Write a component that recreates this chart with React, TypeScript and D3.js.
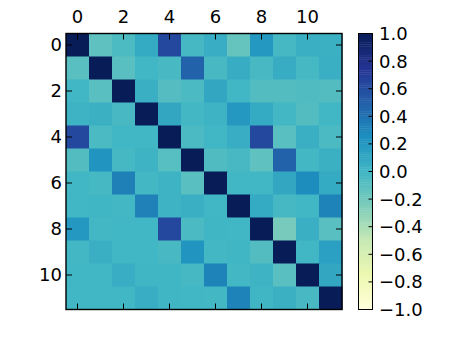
import React from "react";
import * as d3 from "d3";

// correlation matrix, one array per row
const r0 = [1.0, -0.12, -0.05, 0.08, 0.63, -0.02, 0.06, -0.15, 0.2, -0.02, 0.05, 0.04];
const r1 = [-0.1, 1.0, -0.1, 0.0, -0.03, 0.48, -0.03, 0.07, -0.03, 0.07, -0.02, 0.05];
const r2 = [0.0, -0.1, 1.0, 0.05, -0.08, -0.04, 0.1, 0.0, -0.07, -0.07, -0.06, -0.07];
const r3 = [0.02, 0.04, -0.03, 1.0, 0.1, -0.01, 0.02, 0.2, 0.08, -0.01, -0.07, 0.0];
const r4 = [0.63, -0.04, 0.0, 0.0, 1.0, -0.04, 0.0, 0.06, 0.63, -0.1, 0.05, -0.04];
const r5 = [-0.07, 0.22, -0.02, 0.02, -0.09, 1.0, -0.06, -0.03, -0.12, 0.48, -0.01, 0.04];
const r6 = [0.0, -0.02, 0.34, -0.01, 0.02, -0.1, 1.0, 0.0, 0.0, 0.1, 0.27, 0.08];
const r7 = [0.0, 0.01, -0.01, 0.33, 0.02, 0.05, 0.0, 1.0, 0.08, -0.02, 0.0, 0.32];
const r8 = [0.2, -0.01, 0.0, 0.0, 0.63, -0.04, 0.01, 0.0, 1.0, -0.22, 0.05, -0.1];
const r9 = [-0.01, 0.05, 0.0, 0.0, -0.03, 0.22, -0.01, 0.01, -0.07, 1.0, 0.0, 0.15];
const r10 = [0.0, 0.0, 0.06, 0.01, 0.01, -0.02, 0.32, -0.01, 0.02, -0.1, 1.0, 0.1];
const r11 = [0.0, 0.0, 0.0, 0.06, 0.01, 0.0, -0.01, 0.32, 0.01, 0.04, -0.03, 1.0];
const matrix = [r0, r1, r2, r3, r4, r5, r6, r7, r8, r9, r10, r11];

const axisTicks = [0, 2, 4, 6, 8, 10];
const cbarTicks = [-1.0, -0.8, -0.6, -0.4, -0.2, 0.0, 0.2, 0.4, 0.6, 0.8, 1.0];

// matplotlib YlGnBu anchors
const ylgnbu = ["#ffffd9", "#edf8b1", "#c7e9b4", "#7fcdbb", "#41b6c4", "#1d91c0", "#225ea8", "#253494", "#081d58"];

const W = 458;
const H = 344;
const font = "'DejaVu Sans', sans-serif";

const App = () => {
  const n = matrix.length;
  const x = d3.scaleBand<number>().domain(d3.range(n)).range([66, 342]);
  const y = d3.scaleBand<number>().domain(d3.range(n)).range([33.5, 309.5]);
  const color = d3
    .scaleLinear<string>()
    .domain(ylgnbu.map((_, i) => -1 + (i * 2) / (ylgnbu.length - 1)))
    .range(ylgnbu)
    .interpolate(d3.interpolateRgb);

  const cb = { x0: 358.5, x1: 372.5 };
  const cy = d3.scaleLinear().domain([-1, 1]).range([309.5, 33.5]);
  const steps = d3.range(128).map((i) => -1 + (i * 2) / 128);
  const stepH = (cy(-1) - cy(1)) / 128;
  const tick = 6;
  const fmt = (v: number) => d3.format(".1f")(v).replace("-", "\u2212");

  return (
    <svg
      width={W}
      height={H}
      style={{ position: "absolute", left: 0, top: 0, display: "block", background: "#fff" }}
      fontFamily={font}
      fontSize={18}
    >
      {/* heatmap cells */}
      <g>
        {matrix.map((row, i) =>
          row.map((v, j) => (
            <rect
              key={`${i}-${j}`}
              x={x(j)}
              y={y(i)}
              width={x.bandwidth() + 0.5}
              height={y.bandwidth() + 0.5}
              fill={color(v)}
            />
          ))
        )}
      </g>

      {/* inward ticks */}
      <g stroke="#000" strokeWidth={1}>
        {axisTicks.map((t) => {
          const px = x(t)! + x.bandwidth() / 2;
          const py = y(t)! + y.bandwidth() / 2;
          return (
            <g key={t}>
              <line x1={px} x2={px} y1={y.range()[0]} y2={y.range()[0] + tick} />
              <line x1={px} x2={px} y1={y.range()[1]} y2={y.range()[1] - tick} />
              <line x1={x.range()[0]} x2={x.range()[0] + tick} y1={py} y2={py} />
              <line x1={x.range()[1]} x2={x.range()[1] - tick} y1={py} y2={py} />
            </g>
          );
        })}
      </g>

      <rect
        x={x.range()[0]}
        y={y.range()[0]}
        width={x.range()[1] - x.range()[0]}
        height={y.range()[1] - y.range()[0]}
        fill="none"
        stroke="#000"
        strokeWidth={1.4}
      />

      {/* tick labels */}
      {axisTicks.map((t) => (
        <text key={`xt${t}`} x={x(t)! + x.bandwidth() / 2} y={23} textAnchor="middle">
          {t}
        </text>
      ))}
      {axisTicks.map((t) => (
        <text
          key={`yt${t}`}
          x={62}
          y={y(t)! + y.bandwidth() / 2}
          dy="0.36em"
          textAnchor="end"
        >
          {t}
        </text>
      ))}

      {/* colorbar */}
      <g>
        {steps.map((s, i) => (
          <rect
            key={i}
            x={cb.x0}
            y={cy(s) - stepH}
            width={cb.x1 - cb.x0}
            height={stepH + 0.4}
            fill={color(s + 1 / 128)}
          />
        ))}
        <rect
          x={cb.x0}
          y={cy(1)}
          width={cb.x1 - cb.x0}
          height={cy(-1) - cy(1)}
          fill="none"
          stroke="#000"
          strokeWidth={1}
        />
        {cbarTicks.map((t) => (
          <g key={`cb${t}`}>
            <line x1={cb.x1} x2={cb.x1 - 4} y1={cy(t)} y2={cy(t)} stroke="#000" strokeWidth={1} />
            <text x={379} y={cy(t)} dy="0.36em" textAnchor="start">
              {fmt(t)}
            </text>
          </g>
        ))}
      </g>
    </svg>
  );
};

export default App;
